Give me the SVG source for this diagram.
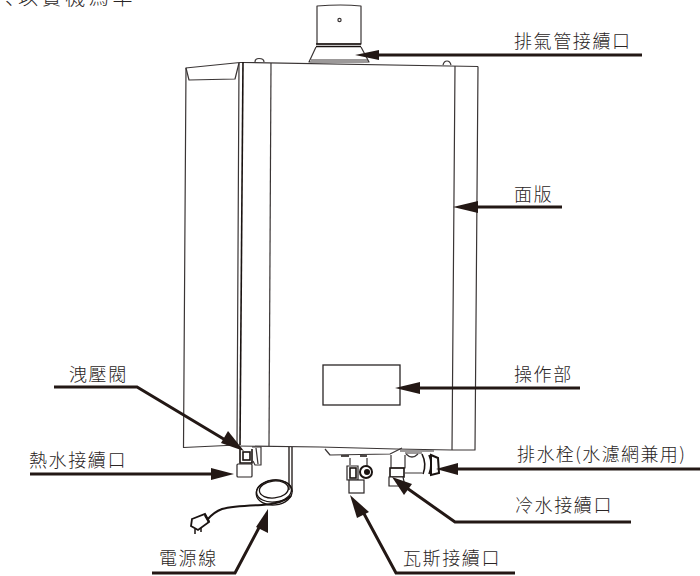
<svg xmlns="http://www.w3.org/2000/svg" width="700" height="576" viewBox="0 0 700 576">
<style>
.l{fill:none;stroke:#3a3535;stroke-width:1.2;stroke-linejoin:round}
.k{fill:none;stroke:#1a1311;stroke-width:1.6}
.w{fill:#fff;stroke:#2a2525;stroke-width:1.2}
.c{fill:none;stroke:#231815;stroke-width:3}
.a{fill:#231815}
text{font-family:"Noto Sans CJK TC","Noto Sans CJK JP",sans-serif;font-size:18px;font-weight:300;fill:#2a2525;letter-spacing:1.6px}
</style>
<text x="5" y="5" style="font-family:'Noto Sans CJK JP',sans-serif;font-size:20px;letter-spacing:3.6px">、<tspan x="18" style="font-family:'Noto Sans CJK TC',sans-serif">以實機爲準</tspan></text>
<g id="heater">
<path class="l" d="M317 6Q342 4 361 6L361 44H317Z"/>
<circle class="l" cx="339.500" cy="20" r="1.600"/>
<path class="k" d="M316 44H361M316 46.500H361"/>
<path class="l" d="M316 47L309 62H369L361 47"/>
<path class="l" d="M311 60H368"/>
<path class="l" d="M185.500 68L240 62.500H243L478 66.500"/>
<path class="l" d="M186 68L189 80L235 79L239 63"/>
<path class="l" d="M186 68L183.500 447.500L237 445L239 63"/>
<path class="k" d="M243 62L240 445"/>
<path class="l" d="M271 63L269 446"/>
<path class="l" d="M455 66L452 450M478 66.500L475 450L452 450"/>
<path class="l" d="M235 446L320 447L396 449L452 450"/>
<path class="l" d="M255 62Q255 58.500 259 58.500Q264 58.500 264 62"/>
<path class="l" d="M443 65Q444 61 447 61Q450 61 451 65"/>
<rect x="323" y="365" width="77" height="40" fill="none" stroke="#2a2525" stroke-width="1.300"/>
</g>
<g id="hot-water-fitting">
<path class="k" d="M240 449V463H252V449"/>
<rect class="k" x="243" y="452" width="7" height="8"/>
<path class="l" d="M252 447H261L261 465H255L253 461"/>
<path class="l" d="M256 448L258 464"/>
<rect class="w" x="237" y="464" width="15" height="13" rx="1"/>
</g>
<g id="power-cord">
<path d="M289 447V490M292 447V492" fill="none" stroke="#1a1311" stroke-width="1.300"/>
<g fill="none" stroke="#1a1311" stroke-width="1.300" transform="rotate(-6 274 491)">
<ellipse cx="274" cy="491" rx="17.500" ry="11"/>
<ellipse cx="274" cy="489.500" rx="14.500" ry="8.500"/>
<ellipse cx="274" cy="492.500" rx="18" ry="12.500"/>
</g>
<path d="M291 496Q282 504 262 505Q232 506 222 509Q214 512 208 519" fill="none" stroke="#1a1311" stroke-width="2"/>
<path d="M192 519L205 514L209 522L198 530L191 526Z" fill="#fff" stroke="#1a1311" stroke-width="1.800"/>
<path d="M205 515L209 522" stroke="#1a1311" stroke-width="2.500"/>
<path d="M195 529V534M201 528V532" stroke="#1a1311" stroke-width="1.500"/>
</g>
<g id="gas-fitting">
<path class="l" d="M325 449L330 455L390 454L402 448"/>
<path class="k" d="M341 456H349M360 456H367"/>
<path class="l" d="M350 458V465M367 458V467"/>
<path class="w" d="M347 466H358V480H347Z" stroke-width="1.600"/>
<rect class="k" x="350" y="468" width="6" height="10"/>
<circle cx="366" cy="472" r="6" fill="#fff" stroke="#1a1311" stroke-width="2"/>
<circle cx="367" cy="472" r="3" fill="#1a1311"/>
<rect class="w" x="349" y="480" width="15" height="13" stroke-width="1.500"/>
</g>
<g id="water-fitting">
<path class="l" d="M391 455V468H405V455"/>
<path class="l" d="M405 453H422M405 473H422"/>
<path class="l" d="M406 454Q412 460 418 454"/>
<path class="k" d="M422 454Q427 464 423 474M429 455Q433 464 429 474"/>
<path d="M431 455L438 458L439 473L431 475Z" fill="#fff" stroke="#1a1311" stroke-width="2"/>
<path class="k" d="M390 468H404V477H390Z"/>
<path class="w" d="M389 477H403L405 486H389Z" stroke-width="1.500"/>
<path class="l" d="M400 451H434"/>
</g>
<g id="connectors">
<path class="c" d="M642 55H375"/><path class="a" d="M355 55L379 50V60Z"/>
<path class="c" d="M562 207H474"/><path class="a" d="M453 207L478 201V213Z"/>
<path class="c" d="M580 388H415"/><path class="a" d="M395 388L420 382V394Z"/>
<path class="c" d="M54 387H137L232 444"/><path class="a" d="M244 451L221 443L228 431Z"/>
<path class="c" d="M30 474H215"/><path class="a" d="M234 474L211 468V480Z"/>
<path class="c" d="M700 469H450"/><path class="a" d="M436 469L458 463V475Z"/>
<path class="c" d="M631 522H455L404 486"/><path class="a" d="M392 477L412 484L404 495Z"/>
<path class="c" d="M152 573H235L262 522"/><path class="a" d="M268 509L268 533L256 527Z"/>
<path class="c" d="M515 573H396L362 510"/><path class="a" d="M350 495L369 512L357 518Z"/>
</g>
<g id="labels">
<text x="514" y="48">排氣管接續口</text>
<text x="514" y="201">面版</text>
<text x="514" y="381">操作部</text>
<text x="69" y="381">洩壓閥</text>
<text x="29" y="467">熱水接續口</text>
<text x="517" y="461" style="letter-spacing:1.4px">排水栓(水濾網兼用)</text>
<text x="515" y="512">冷水接續口</text>
<text x="159" y="565">電源線</text>
<text x="403" y="565">瓦斯接續口</text>
</g>
</svg>
